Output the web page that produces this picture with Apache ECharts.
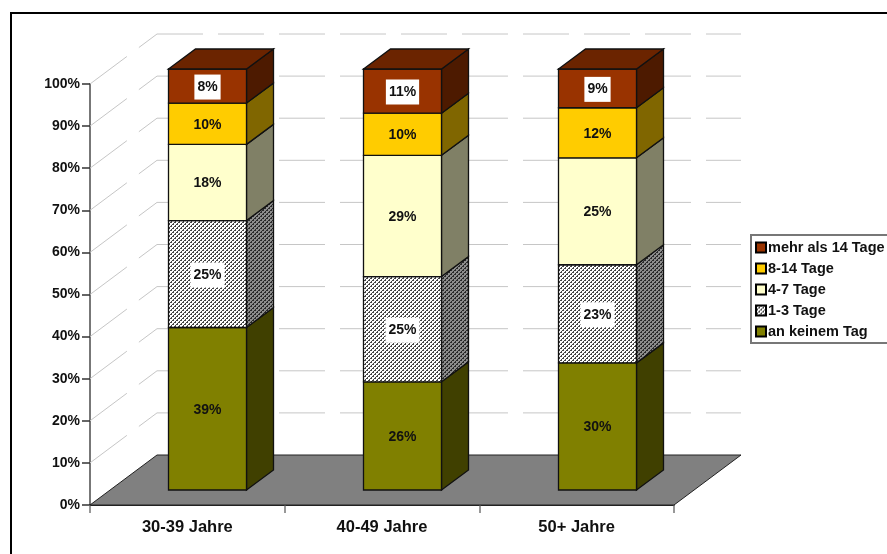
<!DOCTYPE html>
<html>
<head>
<meta charset="utf-8">
<style>html,body{margin:0;padding:0;background:#fff;overflow:hidden}#c{width:887px;height:554px}</style>
<script src="https://cdn.jsdelivr.net/npm/echarts@6/dist/echarts.min.js"></script>
</head>
<body>
<div id="c"></div>
<script>
var categories = ['30-39 Jahre', '40-49 Jahre', '50+ Jahre'];
var anKeinemTag = [38.6, 25.7, 30.2];
var einsBisDrei = [25.4, 25.0, 23.3];
var vierBisSieben = [18.1, 28.8, 25.4];
var achtBisVierzehn = [9.8, 10.0, 11.9];
var mehrAls14 = [8.1, 10.5, 9.2];
var seriesNames = ['an keinem Tag', '1-3 Tage', '4-7 Tage', '8-14 Tage', 'mehr als 14 Tage'];
var yTicks = [10, 20, 30, 40, 50, 60, 70, 80, 90, 100];

function hatch(fg, bg) {
  var n = 4, cv = document.createElement('canvas');
  cv.width = n; cv.height = n;
  var g = cv.getContext('2d');
  g.fillStyle = bg; g.fillRect(0, 0, n, n);
  g.fillStyle = fg;
  for (var x = 0; x < n; x++) for (var y = 0; y < n; y++) {
    if ((x + y) % 4 === 0 || ((x + y) % 4 === 1 && y % 2 === 0)) g.fillRect(x, y, 1, 1);
  }
  return {image: cv, repeat: 'repeat'};
}
var frontFill = [ '#808000', hatch('#444444', '#ffffff'), '#FFFFCC', '#FFCC00', '#993300' ];
var sideFill  = [ '#404000', hatch('#2a2a2a', '#8c8c8c'), '#808066', '#806600', '#4D1A00' ];
var topFill = '#6B2400';
var labelBox = [false, true, false, false, true];

var stackValues = [anKeinemTag, einsBisDrei, vierBisSieben, achtBisVierzehn, mehrAls14];
var BAR_DX = 20, BAR_DY = -15, SIDE_DX = 27, SIDE_DY = -20, WALL_DX = 67, WALL_DY = -50;
var EDGE = '#111';
var FONT = '"Liberation Sans", Arial, sans-serif';

function poly(pts, fill, z2) {
  return {type: 'polygon', shape: {points: pts}, z2: z2 || 0,
    style: {fill: fill, stroke: EDGE, lineWidth: 1.3, lineJoin: 'miter'}};
}

var series = [];

series.push({
  type: 'custom', name: 'wall', silent: true, z: 1, legendHoverLink: false,
  data: yTicks.map(function (v) { return [0, v]; }),
  renderItem: function (params, api) {
    var half = api.size([1, 0])[0] / 2;
    var p = api.coord([0, api.value(1)]);
    var x0 = p[0] - half, y0 = p[1];
    var xEnd = api.coord([categories.length - 1, 0])[0] + half + WALL_DX;
    var st = {stroke: '#c6c6c6', lineWidth: 1, lineDash: [46, 15], fill: null};
    return {type: 'group', children: [
      {type: 'line', shape: {x1: x0, y1: y0, x2: x0 + WALL_DX, y2: y0 + WALL_DY}, style: st},
      {type: 'line', shape: {x1: x0 + WALL_DX, y1: y0 + WALL_DY, x2: xEnd, y2: y0 + WALL_DY}, style: st}
    ]};
  }
});

series.push({
  type: 'custom', name: 'floor', silent: true, z: 2, legendHoverLink: false,
  data: [[0, 0]],
  renderItem: function (params, api) {
    var half = api.size([1, 0])[0] / 2;
    var a = api.coord([0, 0]), b = api.coord([categories.length - 1, 0]);
    var l = a[0] - half, r = b[0] + half, y = a[1];
    return {type: 'polygon',
      shape: {points: [[l, y], [l + WALL_DX, y + WALL_DY], [r + WALL_DX, y + WALL_DY], [r, y]]},
      style: {fill: '#808080', stroke: '#222', lineWidth: 1}};
  }
});

seriesNames.forEach(function (name, si) {
  var data = categories.map(function (c, i) {
    var start = 0;
    for (var k = 0; k < si; k++) start += stackValues[k][i];
    return [i, start, start + stackValues[si][i], stackValues[si][i]];
  });
  series.push({
    type: 'custom', name: name, silent: true, z: 3 + si,
    itemStyle: {color: frontFill[si], borderColor: '#000', borderWidth: 1},
    encode: {x: 0, y: [1, 2]},
    data: data,
    renderItem: function (params, api) {
      var i = api.value(0);
      var w = api.size([1, 0])[0] * 0.4;
      var pa = api.coord([i, api.value(1)]), pb = api.coord([i, api.value(2)]);
      var l = Math.round(pa[0] + BAR_DX - w / 2) + 0.5, r = l + Math.round(w);
      var yb = pa[1] + BAR_DY, yt = pb[1] + BAR_DY;
      var kids = [
        poly([[r, yb], [r + SIDE_DX, yb + SIDE_DY], [r + SIDE_DX, yt + SIDE_DY], [r, yt]], sideFill[si]),
        poly([[l, yb], [r, yb], [r, yt], [l, yt]], frontFill[si])
      ];
      if (si === seriesNames.length - 1) {
        kids.push(poly([[l, yt], [l + SIDE_DX, yt + SIDE_DY], [r + SIDE_DX, yt + SIDE_DY], [r, yt]], topFill));
      }
      var box = labelBox[si];
      kids.push({
        type: 'text', z2: 5,
        x: (l + r) / 2, y: (yb + yt) / 2 + 1,
        style: {
          text: Math.round(api.value(3)) + '%',
          fill: '#111', font: 'bold 14px ' + FONT,
          align: 'center', verticalAlign: 'middle',
          backgroundColor: box ? '#fff' : null,
          padding: box ? [6, 3, 5, 3] : 0
        }
      });
      return {type: 'group', children: kids};
    }
  });
});

var chart = echarts.init(document.getElementById('c'), null, {renderer: 'canvas'});
chart.setOption({
  animation: false,
  backgroundColor: '#fff',
  grid: {left: 90, right: 213, top: 84, bottom: 49, containLabel: false},
  xAxis: {
    type: 'category', data: categories,
    axisLine: {lineStyle: {color: '#222', width: 2}},
    axisTick: {show: true, length: 8, lineStyle: {color: '#777', width: 1.5}},
    axisLabel: {color: '#111', fontFamily: FONT, fontWeight: 'bold', fontSize: 16.5, margin: 14}
  },
  yAxis: {
    type: 'value', min: 0, max: 100, interval: 10,
    splitLine: {show: false},
    axisLine: {show: true, lineStyle: {color: '#777', width: 2}},
    axisTick: {show: true, length: 8, lineStyle: {color: '#333', width: 1.5}},
    axisLabel: {color: '#111', fontFamily: FONT, fontWeight: 'bold', fontSize: 14, margin: 10, formatter: '{value}%'}
  },
  legend: {
    left: 751, top: 235, orient: 'vertical', align: 'left',
    selectedMode: false,
    data: seriesNames.slice().reverse(),
    itemWidth: 10, itemHeight: 10, itemGap: 6,
    padding: [5, 14, 4, 4],
    icon: 'rect',
    backgroundColor: '#fff',
    borderColor: '#777', borderWidth: 2,
    textStyle: {color: '#111', fontFamily: FONT, fontWeight: 'bold', fontSize: 14.5, lineHeight: 15, padding: [0, 0, 0, -3]}
  },
  graphic: [{
    type: 'polyline', silent: true, z: 20,
    shape: {points: [[11, 554], [11, 13], [887, 13]]},
    style: {stroke: '#000', lineWidth: 2, fill: null}
  }],
  series: series
});
</script>
</body>
</html>
